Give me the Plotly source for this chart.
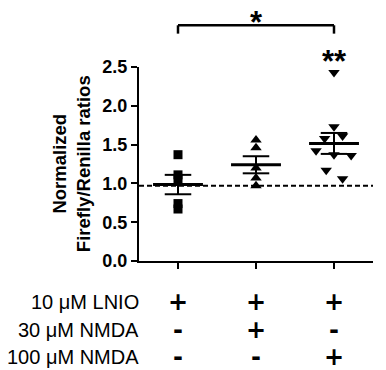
import plotly.graph_objects as go

# ---- data ----
group_x = [0, 1, 2]
g1_vals = [1.37, 1.11, 1.05, 0.74, 0.67]
g1_dx = [0, 0, 0, 0, 0]
g2_vals = [1.56, 1.46, 1.20, 1.07, 0.97]
g2_dx = [0, 0, 0, 0, 0]
g3_vals = [2.43, 1.73, 1.61, 1.58, 1.42, 1.37, 1.36, 1.17, 1.06]
g3_dx = [0, 0, 0.11, -0.12, -0.23, 0, 0.22, -0.10, 0.11]
means = [0.985, 1.24, 1.515]
sems = [0.125, 0.11, 0.135]
baseline = 0.97
yticks = [0.0, 0.5, 1.0, 1.5, 2.0, 2.5]
row_labels = ["10 μM LNIO", "30 μM NMDA", "100 μM NMDA"]
row_signs = [["+", "+", "+"], ["-", "+", "-"], ["-", "-", "+"]]
bracket_groups = [0, 2]
bracket_text = "*"
group3_text = "**"

FONT = "Liberation Sans, Arial, sans-serif"
SIGN_FONT = "DejaVu Sans, sans-serif"
BLACK = "#000000"

fig = go.Figure()

symbols = ["square", "triangle-up", "triangle-down"]
for gi, (vals, dx, sym) in enumerate(zip([g1_vals, g2_vals, g3_vals], [g1_dx, g2_dx, g3_dx], symbols)):
    fig.add_trace(go.Scatter(
        x=[group_x[gi] + d for d in dx], y=vals, mode="markers",
        marker=dict(symbol=sym, size=9 if sym == "square" else 10, color=BLACK, line=dict(width=0)),
        showlegend=False, cliponaxis=False))

# mean lines
mx, my = [], []
for xi, m in zip(group_x, means):
    mx += [xi - 0.32, xi + 0.32, None]
    my += [m, m, None]
fig.add_trace(go.Scatter(x=mx, y=my, mode="lines", line=dict(color=BLACK, width=3), showlegend=False))

# SEM bars
ex, ey = [], []
for xi, m, s in zip(group_x, means, sems):
    ex += [xi, xi, None, xi - 0.17, xi + 0.17, None, xi - 0.17, xi + 0.17, None]
    ey += [m - s, m + s, None, m + s, m + s, None, m - s, m - s, None]
fig.add_trace(go.Scatter(x=ex, y=ey, mode="lines", line=dict(color=BLACK, width=2), showlegend=False))

# dashed baseline
fig.add_shape(type="line", xref="paper", x0=0, x1=1, yref="y", y0=baseline, y1=baseline,
              line=dict(color=BLACK, width=2, dash="5px,3px"), layer="below")

# significance bracket
fig.add_shape(type="line", xref="x", yref="paper", x0=bracket_groups[0], x1=bracket_groups[1],
              y0=1.215, y1=1.215, line=dict(color=BLACK, width=2.5))
for bx in bracket_groups:
    fig.add_shape(type="line", xref="x", yref="paper", x0=bx, x1=bx, y0=1.172, y1=1.215,
                  line=dict(color=BLACK, width=2.5))
fig.add_annotation(x=sum(bracket_groups) / 2, xref="x", y=1.228, yref="paper", text=bracket_text,
                   showarrow=False, xanchor="center", yanchor="middle",
                   font=dict(family=FONT, size=31, color=BLACK, weight="bold"))
fig.add_annotation(x=group_x[2], xref="x", y=1.03, yref="paper", text=group3_text,
                   showarrow=False, xanchor="center", yanchor="middle",
                   font=dict(family=FONT, size=31, color=BLACK, weight="bold"))

# y-axis title
fig.add_annotation(x=-0.29, xref="paper", y=0.5, yref="paper", textangle=-90,
                   xanchor="center", yanchor="middle",
                   text="Normalized<br>Firefly/Renilla ratios", showarrow=False,
                   font=dict(family=FONT, size=18.5, color=BLACK, weight="bold"))

# treatment table
row_y = [-0.211, -0.356, -0.495]
for ri, (lab, signs) in enumerate(zip(row_labels, row_signs)):
    fig.add_annotation(x=0.008, xref="paper", y=row_y[ri], yref="paper", text=lab,
                       xanchor="right", yanchor="middle", showarrow=False,
                       font=dict(family=FONT, size=20, color=BLACK))
    for xi, sg in zip(group_x, signs):
        fig.add_annotation(x=xi, xref="x", y=row_y[ri], yref="paper", text=sg,
                           xanchor="center", yanchor="middle", showarrow=False,
                           font=dict(family=SIGN_FONT, size=24, color=BLACK, weight="bold"))

fig.update_layout(
    width=386, height=370,
    margin=dict(l=139, r=13, t=67, b=109, pad=0),
    plot_bgcolor="white", paper_bgcolor="white",
    showlegend=False,
    xaxis=dict(range=[-0.5, 2.5], tickvals=group_x, showticklabels=False,
               ticks="outside", ticklen=6, tickwidth=2, tickcolor=BLACK,
               showline=True, linewidth=2, linecolor=BLACK,
               showgrid=False, zeroline=False, fixedrange=True),
    yaxis=dict(range=[0, 2.5], tickvals=yticks, ticktext=[f"{v:.1f}" for v in yticks],
               ticks="outside", ticklen=6, tickwidth=2, tickcolor=BLACK,
               showline=True, linewidth=2, linecolor=BLACK,
               showgrid=False, zeroline=False, fixedrange=True,
               tickfont=dict(family=FONT, size=18, color=BLACK, weight="bold")),
)

fig.write_html("out.html", config={"displayModeBar": False},
               post_script="document.body.style.margin='0';")
